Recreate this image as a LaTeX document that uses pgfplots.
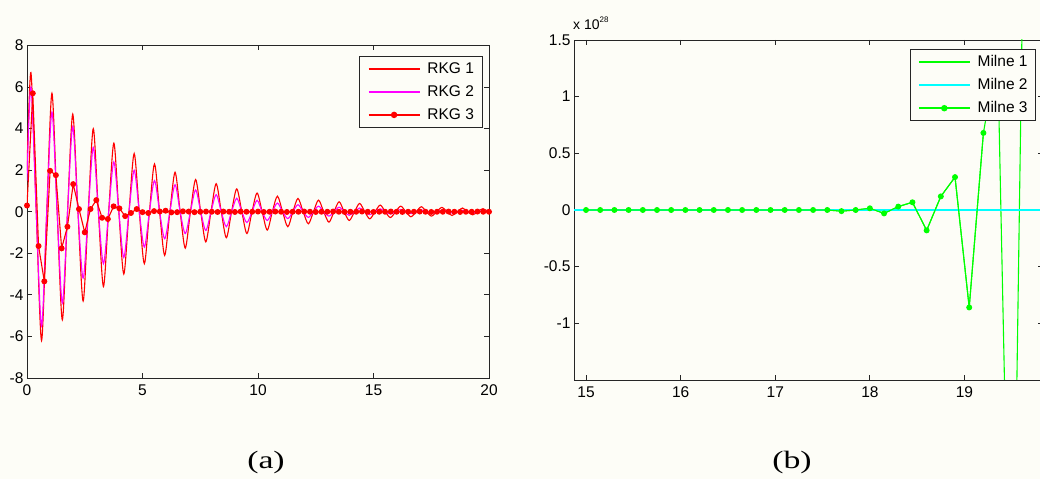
\documentclass[border=0pt]{standalone}
\usepackage{fontspec}
\setmainfont{Liberation Sans}
\newfontfamily\capfont{Liberation Serif}
\usepackage{pgfplots}
\pgfplotsset{compat=1.18}
\definecolor{bg}{RGB}{253,253,247}
\definecolor{mred}{RGB}{255,0,0}
\definecolor{mmag}{RGB}{255,0,255}
\definecolor{mgreen}{RGB}{0,255,0}
\definecolor{mcyan}{RGB}{0,255,255}
\pgfplotsset{
  mlab/.style={
    scale only axis, anchor=south west,
    tick align=inside, major tick length=5pt,
    xticklabel pos=left, yticklabel pos=left,
    xtick pos=both, ytick pos=both,
    axis line style={line width=0.8pt, draw=black!85},
    every tick/.style={black!85, line width=0.8pt},
    ticklabel style={font=\fontsize{15.5}{18}\selectfont},
    xticklabel style={yshift=-3pt},
    /pgf/number format/assume math mode=true,
    legend cell align=left,
    legend image code/.code={\draw[mark repeat=2,mark phase=2,##1,line width=1.6pt] plot coordinates {(0pt,0pt) (25.5pt,0pt) (51pt,0pt)};},
    legend style={draw=black!85, line width=0.8pt, fill=bg, font=\fontsize{15.5}{18}\selectfont,
      inner xsep=8pt, inner ysep=6pt, row sep=10pt, column sep=7pt,
      nodes={inner sep=0pt, text height=11pt, text depth=2pt}},
  }
}
\begin{document}
\begin{tikzpicture}
\clip (0pt,0pt) rectangle (1040pt,479pt);
\fill[bg] (0pt,0pt) rectangle (1040pt,479pt);

\begin{axis}[mlab,
  at={(27pt,101pt)}, width=462pt, height=332.5pt,
  xmin=0, xmax=20, ymin=-8, ymax=8,
  xtick={0,5,10,15,20}, xticklabels={0,5,10,15,20},
  ytick={-8,-6,-4,-2,0,2,4,6,8}, yticklabels={-8,-6,-4,-2,0,2,4,6,8},
  legend style={at={(axis description cs:0.9855,0.9684)}, anchor=north east},
]
\addplot[mred, line width=1.1pt, smooth, tension=0.5] coordinates {
(0,2.0)
(0.17,6.7)(0.40,0)(0.63,-6.2)(0.855,0)
(1.08,5.7)(1.305,0)(1.53,-5.2)(1.755,0)
(1.98,4.7)(2.205,0)(2.43,-4.3)(2.65,0)
(2.87,4.0)(3.09,0)(3.31,-3.6)(3.535,0)
(3.76,3.3)(3.975,0)(4.19,-3.0)(4.415,0)
(4.64,2.8)(4.86,0)(5.08,-2.5)(5.30,0)
(5.52,2.3)(5.74,0)(5.96,-2.1)(6.185,0)
(6.41,1.9)(6.63,0)(6.85,-1.75)(7.075,0)
(7.30,1.55)(7.52,0)(7.74,-1.45)(7.965,0)
(8.19,1.35)(8.41,0)(8.63,-1.25)(8.855,0)
(9.08,1.1)(9.30,0)(9.52,-1.05)(9.74,0)
(9.96,0.9)(10.18,0)(10.40,-0.88)(10.62,0)
(10.84,0.75)(11.065,0)(11.29,-0.72)(11.51,0)
(11.73,0.64)(11.955,0)(12.18,-0.58)(12.40,0)
(12.62,0.56)(12.845,0)(13.07,-0.5)(13.29,0)
(13.51,0.48)(13.73,0)(13.95,-0.42)(14.175,0)
(14.40,0.4)(14.62,0)(14.84,-0.34)(15.065,0)
(15.29,0.32)(15.51,0)(15.73,-0.28)(15.955,0)
(16.18,0.27)(16.40,0)(16.62,-0.24)(16.845,0)
(17.07,0.24)(17.29,0)(17.51,-0.21)(17.735,0)
(17.96,0.21)(18.18,0)(18.40,-0.18)(18.625,0)
(18.85,0.18)(19.07,0)(19.29,-0.15)(19.515,0)
(19.74,0.15)(19.96,0)(20,-0.03)
};
\addlegendentry{RKG 1}
\addplot[mmag, line width=1.1pt, smooth, tension=0.5] coordinates {
(0,1.5)
(0.17,6.0)(0.40,0)(0.63,-5.5)(0.855,0)
(1.08,4.8)(1.305,0)(1.53,-4.4)(1.755,0)
(1.98,4.1)(2.205,0)(2.43,-3.2)(2.65,0)
(2.87,3.1)(3.09,0)(3.31,-2.5)(3.535,0)
(3.76,2.4)(3.975,0)(4.19,-2.2)(4.415,0)
(4.64,2.0)(4.86,0)(5.08,-1.7)(5.30,0)
(5.52,1.5)(5.74,0)(5.96,-1.3)(6.185,0)
(6.41,1.3)(6.63,0)(6.85,-1.05)(7.075,0)
(7.30,1.05)(7.52,0)(7.74,-0.9)(7.965,0)
(8.19,0.82)(8.41,0)(8.63,-0.72)(8.855,0)
(9.08,0.65)(9.30,0)(9.52,-0.52)(9.74,0)
(9.96,0.55)(10.18,0)(10.40,-0.42)(10.62,0)
(10.84,0.42)(11.065,0)(11.29,-0.33)(11.51,0)
(11.73,0.34)(11.955,0)(12.18,-0.27)(12.40,0)
(12.62,0.27)(12.845,0)(13.07,-0.21)(13.29,0)
(13.51,0.22)(13.73,0)(13.95,-0.17)(14.175,0)
(14.40,0.18)(14.62,0)(14.84,-0.14)(15.065,0)
(15.29,0.14)(15.51,0)(15.73,-0.11)(15.955,0)
(16.18,0.11)(16.40,0)(16.62,-0.09)(16.845,0)
(17.07,0.09)(17.29,0)(17.51,-0.07)(17.735,0)
(17.96,0.07)(18.18,0)(18.40,-0.06)(18.625,0)
(18.85,0.06)(19.07,0)(19.29,-0.05)(19.515,0)
(19.74,0.05)(19.96,0)(20,-0.01)
};
\addlegendentry{RKG 2}
\addplot[mred, line width=1.1pt, mark=*, mark size=2.4pt, mark options={solid, fill=mred, draw=mred}] coordinates {
(0,0.3)(0.25,5.7)(0.5,-1.65)(0.75,-3.35)(1,1.97)(1.25,1.76)(1.5,-1.76)(1.75,-0.72)
(2,1.33)(2.25,0.13)(2.5,-0.99)(2.75,0.13)(3,0.56)(3.25,-0.29)(3.5,-0.35)(3.75,0.26)
(4,0.16)(4.25,-0.21)(4.5,-0.06)(4.75,0.13)(5,-0.02)(5.25,-0.06)(5.5,0.03)(5.75,0.01)
(6,0.05)(6.25,-0.03)(6.5,-0.02)(6.75,0.02)(7,0.01)(7.25,-0.02)(7.5,0)(7.75,0.01)
(8,0)(8.25,-0.01)(8.5,0.01)(8.75,0)(9,-0.01)(9.25,0.01)(9.5,0)(9.75,0)
(10,0.01)(10.25,-0.01)(10.5,0)(10.75,0.01)(11,0)(11.25,-0.01)(11.5,0)(11.75,0)
(12,0.01)(12.25,0)(12.5,-0.01)(12.75,0)(13,0)(13.25,0.01)(13.5,0)(13.75,-0.01)
(14,0)(14.25,0)(14.5,0.01)(14.75,0)(15,-0.01)(15.25,0)(15.5,0)(15.75,0.01)
(16,0)(16.25,-0.01)(16.5,0)(16.75,0)(17,0.01)(17.25,0)(17.5,-0.01)(17.75,0)
(18,0)(18.25,0.01)(18.5,0)(18.75,-0.01)(19,0)(19.25,0)(19.5,0.01)(19.75,0)(20,0)
};
\addlegendentry{RKG 3}
\end{axis}

\begin{axis}[mlab,
  at={(574pt,99pt)}, width=469pt, height=340pt,
  xmin=14.873, xmax=19.83, ymin=-1.5, ymax=1.5,
  xtick={15,16,17,18,19}, xticklabels={15,16,17,18,19},
  ytick={-1,-0.5,0,0.5,1,1.5}, yticklabels={-1,-0.5,0,0.5,1,1.5},
  legend style={at={(axis description cs:0.985,0.9726)}, anchor=north east},
]
\addplot[mgreen, line width=1.1pt] coordinates {
(14.85,0)(15,0)(15.15,0)(15.3,0)(15.45,0)(15.6,0)(15.75,0)(15.9,0)(16.05,0)(16.2,0)
(16.35,0)(16.5,0)(16.65,0)(16.8,0)(16.95,0)(17.1,0)(17.25,0)(17.4,0)(17.55,0)
(17.7,-0.01)(17.85,0)(18,0.015)(18.15,-0.03)(18.3,0.03)(18.45,0.068)(18.6,-0.18)
(18.75,0.12)(18.9,0.29)(19.05,-0.86)(19.2,0.68)(19.35,1.4)(19.5,-4.6)(19.65,4.0)(19.8,9.0)
};
\addlegendentry{Milne 1}
\addplot[mcyan, line width=1.1pt] coordinates {(14.85,0)(19.95,0)};
\addlegendentry{Milne 2}
\addplot[mgreen, line width=1.1pt, mark=*, mark size=2.4pt, mark options={solid, fill=mgreen, draw=mgreen}] coordinates {
(15,0)(15.15,0)(15.3,0)(15.45,0)(15.6,0)(15.75,0)(15.9,0)(16.05,0)(16.2,0)
(16.35,0)(16.5,0)(16.65,0)(16.8,0)(16.95,0)(17.1,0)(17.25,0)(17.4,0)(17.55,0)
(17.7,-0.01)(17.85,0)(18,0.015)(18.15,-0.03)(18.3,0.03)(18.45,0.068)(18.6,-0.18)
(18.75,0.12)(18.9,0.29)(19.05,-0.86)(19.2,0.68)
};
\addlegendentry{Milne 3}
\end{axis}

\node[anchor=base west, inner sep=0pt, font=\fontsize{14}{16}\selectfont] at (573pt,449pt)
  {x 10\raisebox{7pt}{\fontsize{8}{9}\selectfont 28}};
\node[font=\capfont\fontsize{25}{30}\selectfont, inner sep=0pt] at (266pt,17pt) {\scalebox{1.35}[1]{(a)}};
\node[font=\capfont\fontsize{25}{30}\selectfont, inner sep=0pt] at (792pt,17pt) {\scalebox{1.35}[1]{(b)}};
\end{tikzpicture}
\end{document}
